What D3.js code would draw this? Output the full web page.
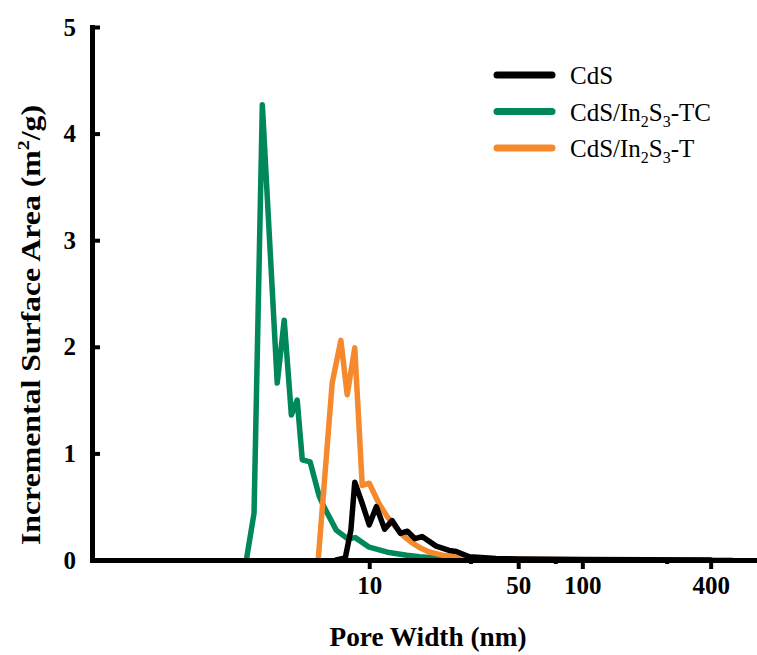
<!DOCTYPE html>
<html>
<head>
<meta charset="utf-8">
<script src="https://cdn.jsdelivr.net/npm/d3@7"></script>
<style>
  body { margin: 0; background: #fff; }
  svg text { font-family: "Liberation Serif", "Times New Roman", serif; }
</style>
</head>
<body>
<div id="chart"></div>
<script>

// pore width (nm) and incremental surface area (m2/g)
let cdsX = [7.0, 7.72, 8.20, 8.55, 9.27, 10, 10.8, 11.8, 12.8, 14.0, 15.1, 16.4, 17.7, 20.6, 23.7, 25.6, 29.5, 39.4, 50, 100, 200, 400];
let cdsY = [0, 0.02, 0.28, 0.73, 0.53, 0.33, 0.50, 0.29, 0.37, 0.25, 0.27, 0.20, 0.22, 0.13, 0.09, 0.08, 0.03, 0.015, 0.01, 0.004, 0.002, 0];

let tcX = [2.65, 2.88, 3.15, 3.70, 3.99, 4.31, 4.59, 4.85, 5.28, 5.82, 6.2, 7.0, 7.9, 8.6, 10, 12.4, 15, 17.2, 22, 30, 50, 100, 200];
let tcY = [0, 0.44, 4.27, 1.66, 2.25, 1.36, 1.50, 0.94, 0.92, 0.60, 0.48, 0.28, 0.20, 0.21, 0.12, 0.07, 0.045, 0.03, 0.015, 0.008, 0.003, 0.001, 0];

let tX = [5.76, 6.70, 7.36, 7.88, 8.55, 9.27, 10, 11.1, 12.2, 13.4, 14.6, 15.9, 17.5, 19.1, 22, 27.3, 35, 50, 100, 200, 500];
let tY = [0, 1.66, 2.06, 1.55, 1.99, 0.70, 0.72, 0.53, 0.40, 0.30, 0.22, 0.16, 0.11, 0.075, 0.045, 0.02, 0.012, 0.006, 0.002, 0.001, 0];

let xTicks = [10, 50, 100, 400];
let xMinorTicks = [30, 75, 250];
let yTicks = [0, 1, 2, 3, 4, 5];

let width = 757, height = 655;
let margin = {top: 27, left: 92, bottom: 95, right: 0};

let svg = d3.select("#chart").append("svg")
  .attr("width", width)
  .attr("height", height);

let x = d3.scaleLog()
  .domain([0.5, 660])
  .range([margin.left, width - margin.right]);

let y = d3.scaleLinear()
  .domain([0, 5])
  .range([height - margin.bottom, margin.top]);

// series, drawn bottom to top
let series = [
  {name: "CdS/In2S3-TC", xs: tcX, ys: tcY, color: "#00875a"},
  {name: "CdS/In2S3-T", xs: tX, ys: tY, color: "#f5892c"},
  {name: "CdS", xs: cdsX, ys: cdsY, color: "#000000"}
];

let line = d3.line()
  .x(d => x(d[0]))
  .y(d => y(d[1]));

svg.append("g")
  .selectAll("path")
  .data(series)
  .enter().append("path")
    .attr("d", s => line(s.xs.map((v, i) => [v, s.ys[i]])))
    .attr("fill", "none")
    .attr("stroke", s => s.color)
    .attr("stroke-width", 5.5)
    .attr("stroke-linejoin", "round")
    .attr("stroke-linecap", "round");

// axes
let yAxis = svg.append("g")
  .attr("transform", `translate(${margin.left},0)`)
  .call(d3.axisLeft(y).tickValues(yTicks).tickSize(-8).tickSizeOuter(0).tickPadding(16).tickFormat(d3.format("d")));

let xAxis = svg.append("g")
  .attr("transform", `translate(0,${height - margin.bottom})`)
  .call(d3.axisBottom(x).tickValues(xTicks).tickSize(9).tickSizeOuter(0).tickPadding(7).tickFormat(d3.format("d")));

xAxis.selectAll(".minor")
  .data(xMinorTicks)
  .enter().append("line")
    .attr("class", "minor")
    .attr("x1", d => x(d)).attr("x2", d => x(d))
    .attr("y1", 0).attr("y2", 4)
    .attr("stroke", "#000")
    .attr("stroke-width", 4);

[xAxis, yAxis].forEach(function(ax) {
  ax.select(".domain").attr("stroke-width", 5).attr("stroke-linecap", "square");
  ax.selectAll(".tick line").attr("stroke-width", 4);
  ax.selectAll("text")
    .attr("font-family", "Liberation Serif")
    .attr("font-size", 25)
    .attr("font-weight", "bold")
    .attr("fill", "#000");
});

// axis titles
svg.append("text")
  .attr("x", 428)
  .attr("y", 646)
  .attr("text-anchor", "middle")
  .attr("font-size", 27)
  .attr("font-weight", "bold")
  .attr("textLength", 197)
  .attr("lengthAdjust", "spacingAndGlyphs")
  .text("Pore Width (nm)");

let yTitle = svg.append("text")
  .attr("transform", "translate(40,325) rotate(-90)")
  .attr("text-anchor", "middle")
  .attr("font-size", 27)
  .attr("font-weight", "bold")
  .attr("textLength", 440)
  .attr("lengthAdjust", "spacingAndGlyphs");
yTitle.append("tspan").text("Incremental Surface Area (m");
yTitle.append("tspan").attr("font-size", 17).attr("dy", -11).text("2");
yTitle.append("tspan").attr("dy", 11).text("/g)");

// legend
let legendItems = [
  {parts: [["CdS", 0]], color: "#000000"},
  {parts: [["CdS/In", 0], ["2", 1], ["S", 0], ["3", 1], ["-TC", 0]], color: "#00875a"},
  {parts: [["CdS/In", 0], ["2", 1], ["S", 0], ["3", 1], ["-T", 0]], color: "#f5892c"}
];

let legend = svg.append("g")
  .selectAll("g")
  .data(legendItems)
  .enter().append("g")
    .attr("transform", (d, i) => `translate(497,${75 + i * 36.5})`);

legend.append("line")
  .attr("x1", 0).attr("x2", 55)
  .attr("stroke", d => d.color)
  .attr("stroke-width", 7)
  .attr("stroke-linecap", "round");

legend.append("text")
  .attr("x", 73)
  .attr("y", 9)
  .attr("font-size", 25)
  .each(function(d) {
    let t = d3.select(this);
    let shifted = 0;
    d.parts.forEach(function(p) {
      let dy = p[1] ? 6 - shifted : -shifted;
      shifted = p[1] ? 6 : 0;
      t.append("tspan")
        .attr("dy", dy)
        .attr("font-size", p[1] ? 16 : 25)
        .text(p[0]);
    });
  });

</script>
</body>
</html>
